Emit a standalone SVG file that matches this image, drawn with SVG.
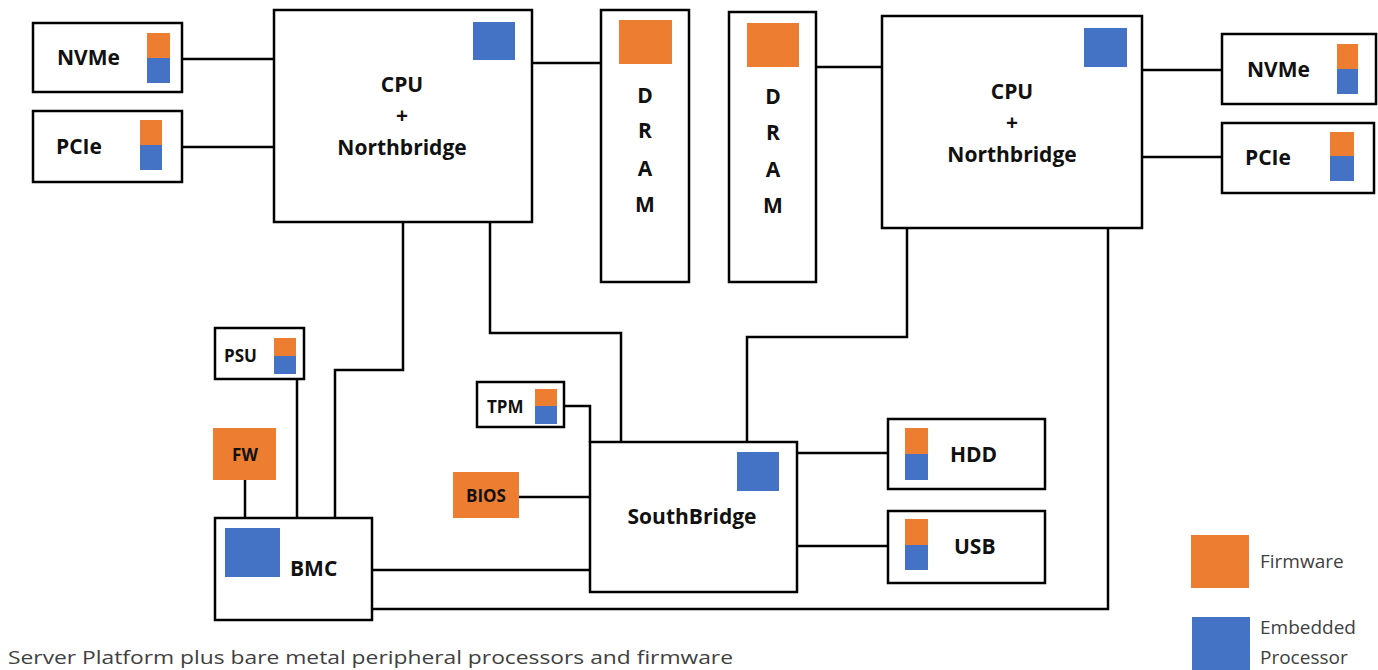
<svg xmlns="http://www.w3.org/2000/svg" width="1378" height="670" viewBox="0 0 1378 670">
<style>
.box{fill:#fff;stroke:#000;stroke-width:2.5}
.or{fill:#ED7D31}
.bl{fill:#4472C4}
.t{font-family:"Open Sans","Liberation Sans",sans-serif;font-weight:bold;font-size:21px;fill:#111}
.s{font-size:17px}
.c{text-anchor:middle}
.ln{fill:none;stroke:#000;stroke-width:2.5}
.lg{font-family:"Open Sans","Liberation Sans",sans-serif;font-size:19px;fill:#404040}
</style>
<rect width="1378" height="670" fill="#fff"/>
<g id="connectors">
<path class="ln" d="M182 59H274M182 147H274M532 63H601M816 67H882M1142 70H1222M1142 157H1222"/>
<path class="ln" d="M403 222V370H335V518"/>
<path class="ln" d="M490 222V333H621V442"/>
<path class="ln" d="M907 228V337H747V442"/>
<path class="ln" d="M1108 228V609H372"/>
<path class="ln" d="M297 379V518M245 480V518"/>
<path class="ln" d="M372 570H590"/>
<path class="ln" d="M564 406H590V442"/>
<path class="ln" d="M519 497H590"/>
<path class="ln" d="M797 453H888M797 546H888"/>
</g>
<g id="nvme1"><rect class="box" x="33" y="23" width="149" height="69"/><rect class="or" x="147" y="33" width="23" height="25"/><rect class="bl" x="147" y="58" width="23" height="25"/><text class="t" x="57" y="65">NVMe</text></g>
<g id="pcie1"><rect class="box" x="33" y="111" width="149" height="71"/><rect class="or" x="140" y="120" width="22" height="25"/><rect class="bl" x="140" y="145" width="22" height="25"/><text class="t" x="56" y="154">PCIe</text></g>
<g id="cpu1"><rect class="box" x="274" y="10" width="258" height="212"/><rect class="bl" x="473" y="22" width="42" height="38"/><text class="t c" x="402" y="92">CPU</text><text class="t c" x="402" y="123">+</text><text class="t c" x="402" y="155">Northbridge</text></g>
<g id="dram1"><rect class="box" x="601" y="10" width="88" height="272"/><rect class="or" x="619" y="20" width="53" height="44"/><text class="t c" x="645" y="103">D</text><text class="t c" x="645" y="138">R</text><text class="t c" x="645" y="176">A</text><text class="t c" x="645" y="212">M</text></g>
<g id="dram2"><rect class="box" x="729" y="12" width="87" height="270"/><rect class="or" x="747" y="23" width="52" height="44"/><text class="t c" x="773" y="104">D</text><text class="t c" x="773" y="140">R</text><text class="t c" x="773" y="177">A</text><text class="t c" x="773" y="213">M</text></g>
<g id="cpu2"><rect class="box" x="882" y="16" width="260" height="212"/><rect class="bl" x="1084" y="28" width="43" height="39"/><text class="t c" x="1012" y="99">CPU</text><text class="t c" x="1012" y="130">+</text><text class="t c" x="1012" y="162">Northbridge</text></g>
<g id="nvme2"><rect class="box" x="1222" y="34" width="154" height="70"/><rect class="or" x="1337" y="44" width="21" height="25"/><rect class="bl" x="1337" y="69" width="21" height="25"/><text class="t" x="1247" y="77">NVMe</text></g>
<g id="pcie2"><rect class="box" x="1222" y="123" width="152" height="70"/><rect class="or" x="1330" y="132" width="24" height="24"/><rect class="bl" x="1330" y="156" width="24" height="25"/><text class="t" x="1245" y="165">PCIe</text></g>
<g id="psu"><rect class="box" x="215" y="328" width="89" height="51"/><rect class="or" x="274" y="338" width="22" height="18"/><rect class="bl" x="274" y="356" width="22" height="18"/><text class="t s" x="224" y="362">PSU</text></g>
<g id="fw"><rect class="or" x="213" y="428" width="63" height="52"/><text class="t s c" x="245" y="461">FW</text></g>
<g id="bmc"><rect class="box" x="215" y="518" width="157" height="102"/><rect class="bl" x="225" y="528" width="55" height="49"/><text class="t" x="290" y="576">BMC</text></g>
<g id="tpm"><rect class="box" x="477" y="382" width="87" height="45"/><rect class="or" x="535" y="389" width="22" height="17"/><rect class="bl" x="535" y="406" width="22" height="18"/><text class="t s" x="487" y="413">TPM</text></g>
<g id="bios"><rect class="or" x="453" y="472" width="66" height="46"/><text class="t s c" x="486" y="502">BIOS</text></g>
<g id="southbridge"><rect class="box" x="590" y="442" width="207" height="150"/><rect class="bl" x="737" y="452" width="42" height="39"/><text class="t c" x="692" y="524">SouthBridge</text></g>
<g id="hdd"><rect class="box" x="888" y="419" width="157" height="70"/><rect class="or" x="905" y="428" width="23" height="26"/><rect class="bl" x="905" y="454" width="23" height="26"/><text class="t" x="950" y="462">HDD</text></g>
<g id="usb"><rect class="box" x="888" y="511" width="157" height="72"/><rect class="or" x="905" y="519" width="23" height="26"/><rect class="bl" x="905" y="545" width="23" height="25"/><text class="t" x="954" y="554">USB</text></g>
<g id="legend"><rect class="or" x="1191" y="535" width="58" height="53"/><text class="lg" x="1260" y="568">Firmware</text><rect class="bl" x="1192" y="617" width="58" height="53"/><text class="lg" x="1260" y="634">Embedded</text><text class="lg" x="1260" y="664">Processor</text></g>
<text class="lg" x="8" y="664" textLength="725" lengthAdjust="spacingAndGlyphs">Server Platform plus bare metal peripheral processors and firmware</text>
</svg>
